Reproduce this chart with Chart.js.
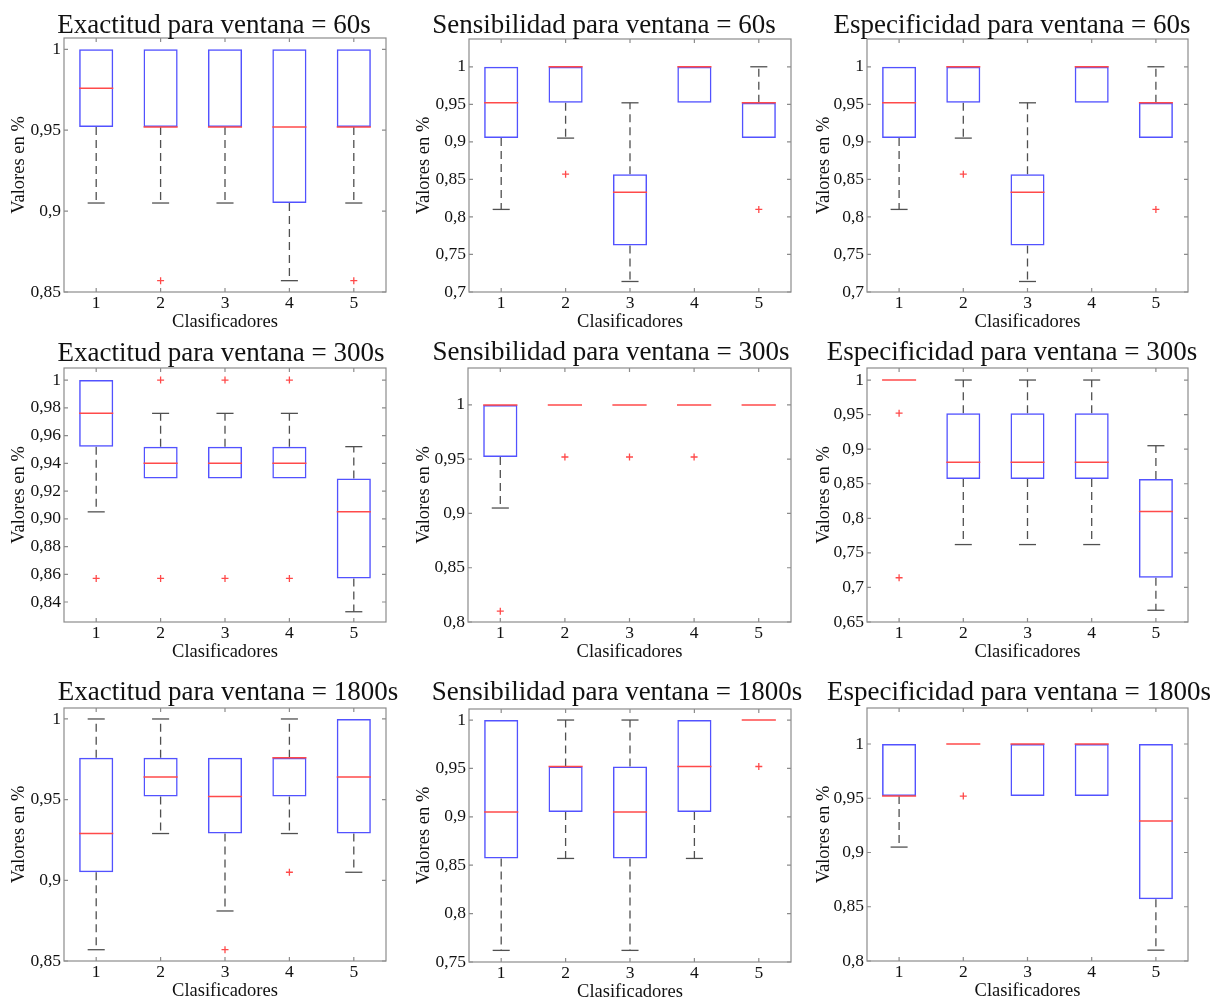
<!DOCTYPE html>
<html>
<head>
<meta charset="utf-8">
<script src="https://cdn.jsdelivr.net/npm/chart.js@4.4.1/dist/chart.umd.min.js"></script>
<style>
body { margin: 0; background: #fff; }
#wrap { position: relative; width: 1221px; height: 1002px; overflow: hidden; }
#wrap canvas { position: absolute; }
</style>
</head>
<body>
<div id="wrap"></div>
<script>
const categories = ['1', '2', '3', '4', '5'];

// cada caja: [minimo, q1, mediana, q3, maximo] por clasificador
const exa60Box = [[0.905, 0.952, 0.976, 1, 1], [0.905, 0.952, 0.952, 1, 1], [0.905, 0.952, 0.952, 1, 1], [0.857, 0.905, 0.952, 1, 1], [0.905, 0.952, 0.952, 1, 1]];
const exa60Out = [[], [0.857], [], [], [0.857]];
const sen60Box = [[0.810, 0.905, 0.952, 1, 1], [0.905, 0.952, 1, 1, 1], [0.714, 0.762, 0.833, 0.857, 0.952], [0.952, 0.952, 1, 1, 1], [0.905, 0.905, 0.952, 0.952, 1]];
const sen60Out = [[], [0.857], [], [], [0.810]];
const esp60Box = [[0.810, 0.905, 0.952, 1, 1], [0.905, 0.952, 1, 1, 1], [0.714, 0.762, 0.833, 0.857, 0.952], [0.952, 0.952, 1, 1, 1], [0.905, 0.905, 0.952, 0.952, 1]];
const esp60Out = [[], [0.857], [], [], [0.810]];

const exa300Box = [[0.905, 0.952, 0.976, 1, 1], [0.929, 0.929, 0.940, 0.952, 0.976], [0.929, 0.929, 0.940, 0.952, 0.976], [0.929, 0.929, 0.940, 0.952, 0.976], [0.833, 0.857, 0.905, 0.929, 0.952]];
const exa300Out = [[0.857], [0.857, 1], [0.857, 1], [0.857, 1], []];
const sen300Box = [[0.905, 0.952, 1, 1, 1], [1, 1, 1, 1, 1], [1, 1, 1, 1, 1], [1, 1, 1, 1, 1], [1, 1, 1, 1, 1]];
const sen300Out = [[0.810], [0.952], [0.952], [0.952], []];
const esp300Box = [[1, 1, 1, 1, 1], [0.762, 0.857, 0.881, 0.952, 1], [0.762, 0.857, 0.881, 0.952, 1], [0.762, 0.857, 0.881, 0.952, 1], [0.667, 0.714, 0.810, 0.857, 0.905]];
const esp300Out = [[0.952, 0.714], [], [], [], []];

const exa1800Box = [[0.857, 0.905, 0.929, 0.976, 1], [0.929, 0.952, 0.964, 0.976, 1], [0.881, 0.929, 0.952, 0.976, 0.976], [0.929, 0.952, 0.976, 0.976, 1], [0.905, 0.929, 0.964, 1, 1]];
const exa1800Out = [[], [], [0.857], [0.905], []];
const sen1800Box = [[0.762, 0.857, 0.905, 1, 1], [0.857, 0.905, 0.952, 0.952, 1], [0.762, 0.857, 0.905, 0.952, 1], [0.857, 0.905, 0.952, 1, 1], [1, 1, 1, 1, 1]];
const sen1800Out = [[], [], [], [], [0.952]];
const esp1800Box = [[0.905, 0.952, 0.952, 1, 1], [1, 1, 1, 1, 1], [0.952, 0.952, 1, 1, 1], [0.952, 0.952, 1, 1, 1], [0.810, 0.857, 0.929, 1, 1]];
const esp1800Out = [[], [0.952], [], [], []];

// ejes Y: limites, marcas y etiquetas
const yRange60Exa = [0.85, 1.007];
const yRange60 = [0.7, 1.037];
const yRange300Exa = [0.8256, 1.0087];
const yRange300Sen = [0.8, 1.034];
const yRange300Esp = [0.65, 1.0174];
const yRange1800Exa = [0.85, 1.0068];
const yRange1800Sen = [0.75, 1.0114];
const yRange1800Esp = [0.8, 1.0332];

const yTicksA = [0.85, 0.9, 0.95, 1];
const yLabelsA = ['0,85', '0,9', '0,95', '1'];
const yTicksB = [0.7, 0.75, 0.8, 0.85, 0.9, 0.95, 1];
const yLabelsB = ['0,7', '0,75', '0,8', '0,85', '0,9', '0,95', '1'];
const yTicksC = [0.84, 0.86, 0.88, 0.9, 0.92, 0.94, 0.96, 0.98, 1];
const yLabelsC = ['0,84', '0,86', '0,88', '0,90', '0,92', '0,94', '0,96', '0,98', '1'];
const yTicksD = [0.8, 0.85, 0.9, 0.95, 1];
const yLabelsD = ['0,8', '0,85', '0,9', '0,95', '1'];
const yTicksE = [0.65, 0.7, 0.75, 0.8, 0.85, 0.9, 0.95, 1];
const yLabelsE = ['0,65', '0,7', '0,75', '0,8', '0,85', '0,9', '0,95', '1'];
const yTicksF = [0.75, 0.8, 0.85, 0.9, 0.95, 1];
const yLabelsF = ['0,75', '0,8', '0,85', '0,9', '0,95', '1'];

const BLUE = '#5252ff';
const RED = '#ff4a4a';
const WHISKER = '#505050';
const FRAME = '#8c8c8c';
const TEXT = '#111';
const SERIF = '"Liberation Serif", "DejaVu Serif", serif';

// posicion de cada panel: lienzo (x0, y0, ancho), area de trazado [l, t, r, b], titulo (centro x, linea base)
const panels = [
    { title: 'Exactitud para ventana = 60s', box: exa60Box, out: exa60Out, range: yRange60Exa, ticks: yTicksA, labels: yLabelsA, x0: 0, y0: 0, w: 405, plot: [64, 38, 386, 292], tx: 214, ty: 33, yPad: 10 },
    { title: 'Sensibilidad para ventana = 60s', box: sen60Box, out: sen60Out, range: yRange60, ticks: yTicksB, labels: yLabelsB, x0: 405, y0: 0, w: 405, plot: [469, 39, 791, 292], tx: 604, ty: 33, yPad: 10 },
    { title: 'Especificidad para ventana = 60s', box: esp60Box, out: esp60Out, range: yRange60, ticks: yTicksB, labels: yLabelsB, x0: 810, y0: 0, w: 411, plot: [867, 39, 1188, 292], tx: 1012, ty: 33, yPad: 5 },
    { title: 'Exactitud para ventana = 300s', box: exa300Box, out: exa300Out, range: yRange300Exa, ticks: yTicksC, labels: yLabelsC, x0: 0, y0: 325, w: 405, plot: [64, 368, 386, 622], tx: 221, ty: 361, yPad: 10 },
    { title: 'Sensibilidad para ventana = 300s', box: sen300Box, out: sen300Out, range: yRange300Sen, ticks: yTicksD, labels: yLabelsD, x0: 405, y0: 325, w: 405, plot: [468, 368, 791, 622], tx: 611, ty: 360, yPad: 10 },
    { title: 'Especificidad para ventana = 300s', box: esp300Box, out: esp300Out, range: yRange300Esp, ticks: yTicksE, labels: yLabelsE, x0: 810, y0: 325, w: 411, plot: [867, 368, 1188, 622], tx: 1012, ty: 360, yPad: 5 },
    { title: 'Exactitud para ventana = 1800s', box: exa1800Box, out: exa1800Out, range: yRange1800Exa, ticks: yTicksA, labels: yLabelsA, x0: 0, y0: 660, w: 405, plot: [64, 708, 386, 961], tx: 228, ty: 700, yPad: 10 },
    { title: 'Sensibilidad para ventana = 1800s', box: sen1800Box, out: sen1800Out, range: yRange1800Sen, ticks: yTicksF, labels: yLabelsF, x0: 405, y0: 660, w: 405, plot: [469, 709, 791, 962], tx: 617, ty: 700, yPad: 10 },
    { title: 'Especificidad para ventana = 1800s', box: esp1800Box, out: esp1800Out, range: yRange1800Esp, ticks: yTicksD, labels: yLabelsD, x0: 810, y0: 660, w: 411, plot: [867, 708, 1188, 961], tx: 1019, ty: 700, yPad: 5 }
];

// bigotes, medianas, marco con marcas interiores y titulo
const boxParts = {
    id: 'boxParts',
    beforeDatasetsDraw(chart, args, opts) {
        const ctx = chart.ctx;
        const xs = chart.scales.x, ys = chart.scales.y;
        const bars = chart.getDatasetMeta(0).data;
        ctx.save();
        ctx.strokeStyle = WHISKER;
        ctx.lineWidth = 1.3;
        opts.box.forEach((s, i) => {
            const cx = xs.getPixelForValue(i);
            const half = bars[i].width / 4;
            const yLo = ys.getPixelForValue(s[0]), yQ1 = ys.getPixelForValue(s[1]);
            const yQ3 = ys.getPixelForValue(s[3]), yHi = ys.getPixelForValue(s[4]);
            ctx.setLineDash([8, 5]);
            if (s[4] > s[3]) {
                ctx.beginPath(); ctx.moveTo(cx, yQ3); ctx.lineTo(cx, yHi); ctx.stroke();
            }
            if (s[0] < s[1]) {
                ctx.beginPath(); ctx.moveTo(cx, yQ1); ctx.lineTo(cx, yLo); ctx.stroke();
            }
            ctx.setLineDash([]);
            if (s[4] > s[3]) {
                ctx.beginPath(); ctx.moveTo(cx - half, yHi); ctx.lineTo(cx + half, yHi); ctx.stroke();
            }
            if (s[0] < s[1]) {
                ctx.beginPath(); ctx.moveTo(cx - half, yLo); ctx.lineTo(cx + half, yLo); ctx.stroke();
            }
        });
        ctx.restore();
    },
    afterDatasetsDraw(chart, args, opts) {
        const ctx = chart.ctx;
        const xs = chart.scales.x, ys = chart.scales.y;
        const bars = chart.getDatasetMeta(0).data;
        ctx.save();
        ctx.strokeStyle = RED;
        ctx.lineWidth = 1.5;
        opts.box.forEach((s, i) => {
            const cx = xs.getPixelForValue(i);
            const half = bars[i].width / 2;
            const ym = ys.getPixelForValue(s[2]);
            ctx.beginPath(); ctx.moveTo(cx - half, ym); ctx.lineTo(cx + half, ym); ctx.stroke();
        });
        ctx.restore();
    },
    afterDraw(chart, args, opts) {
        const ctx = chart.ctx;
        const a = chart.chartArea;
        const xs = chart.scales.x, ys = chart.scales.y;
        ctx.save();
        ctx.strokeStyle = FRAME;
        ctx.lineWidth = 1.2;
        ctx.strokeRect(a.left, a.top, a.right - a.left, a.bottom - a.top);
        ctx.beginPath();
        ys.ticks.forEach(t => {
            const y = ys.getPixelForValue(t.value);
            ctx.moveTo(a.left, y); ctx.lineTo(a.left + 4, y);
            ctx.moveTo(a.right, y); ctx.lineTo(a.right - 4, y);
        });
        categories.forEach((c, i) => {
            const x = xs.getPixelForValue(i);
            ctx.moveTo(x, a.bottom); ctx.lineTo(x, a.bottom - 4);
            ctx.moveTo(x, a.top); ctx.lineTo(x, a.top + 4);
        });
        ctx.stroke();
        ctx.fillStyle = TEXT;
        ctx.font = '27px ' + SERIF;
        ctx.textAlign = 'center';
        ctx.textBaseline = 'alphabetic';
        ctx.fillText(opts.title, opts.tx, opts.ty);
        ctx.restore();
    }
};

Chart.defaults.font.family = SERIF;
Chart.defaults.color = TEXT;

const wrap = document.getElementById('wrap');
panels.forEach(p => {
    const cv = document.createElement('canvas');
    const h = p.plot[3] - p.y0 + 39;
    cv.width = p.w;
    cv.height = h;
    cv.style.left = p.x0 + 'px';
    cv.style.top = p.y0 + 'px';
    wrap.appendChild(cv);

    const outliers = [];
    p.out.forEach((vals, i) => vals.forEach(v => outliers.push({ x: categories[i], y: v })));

    new Chart(cv, {
        type: 'bar',
        data: {
            labels: categories,
            datasets: [{
                data: p.box.map(s => [s[1], s[3]]),
                backgroundColor: 'rgba(0,0,0,0)',
                borderColor: BLUE,
                borderWidth: 1.5,
                borderSkipped: false,
                barPercentage: 0.53,
                categoryPercentage: 1
            }, {
                type: 'line',
                data: outliers,
                showLine: false,
                pointStyle: 'cross',
                pointRadius: 3.5,
                borderColor: RED,
                borderWidth: 1.3
            }]
        },
        plugins: [boxParts],
        options: {
            responsive: false,
            devicePixelRatio: 1,
            animation: false,
            events: [],
            layout: {
                padding: { left: 0, top: p.plot[1] - p.y0, right: p.x0 + p.w - p.plot[2], bottom: 0 }
            },
            plugins: {
                legend: { display: false },
                title: { display: false },
                tooltip: { enabled: false },
                boxParts: { box: p.box, title: p.title, tx: p.tx - p.x0, ty: p.ty - p.y0 }
            },
            scales: {
                x: {
                    grid: { display: false, drawTicks: false },
                    border: { display: false },
                    ticks: { padding: 1, font: { size: 17.5 }, color: TEXT },
                    title: { display: true, text: 'Clasificadores', font: { size: 18.5, lineHeight: 1 }, padding: { top: 0, bottom: 0 }, color: TEXT },
                    afterFit: s => { s.height = 39; }
                },
                y: {
                    min: p.range[0],
                    max: p.range[1],
                    afterBuildTicks: s => { s.ticks = p.ticks.map(v => ({ value: v })); },
                    grid: { display: false, drawTicks: false },
                    border: { display: false },
                    ticks: { autoSkip: false, padding: 3, font: { size: 17.5 }, color: TEXT, callback: (v, i) => p.labels[i] },
                    title: { display: true, text: 'Valores en %', font: { size: 18.5, lineHeight: 1 }, padding: { top: p.yPad, bottom: 0 }, color: TEXT },
                    afterFit: s => { s.width = p.plot[0] - p.x0; }
                }
            }
        }
    });
});
</script>
</body>
</html>
